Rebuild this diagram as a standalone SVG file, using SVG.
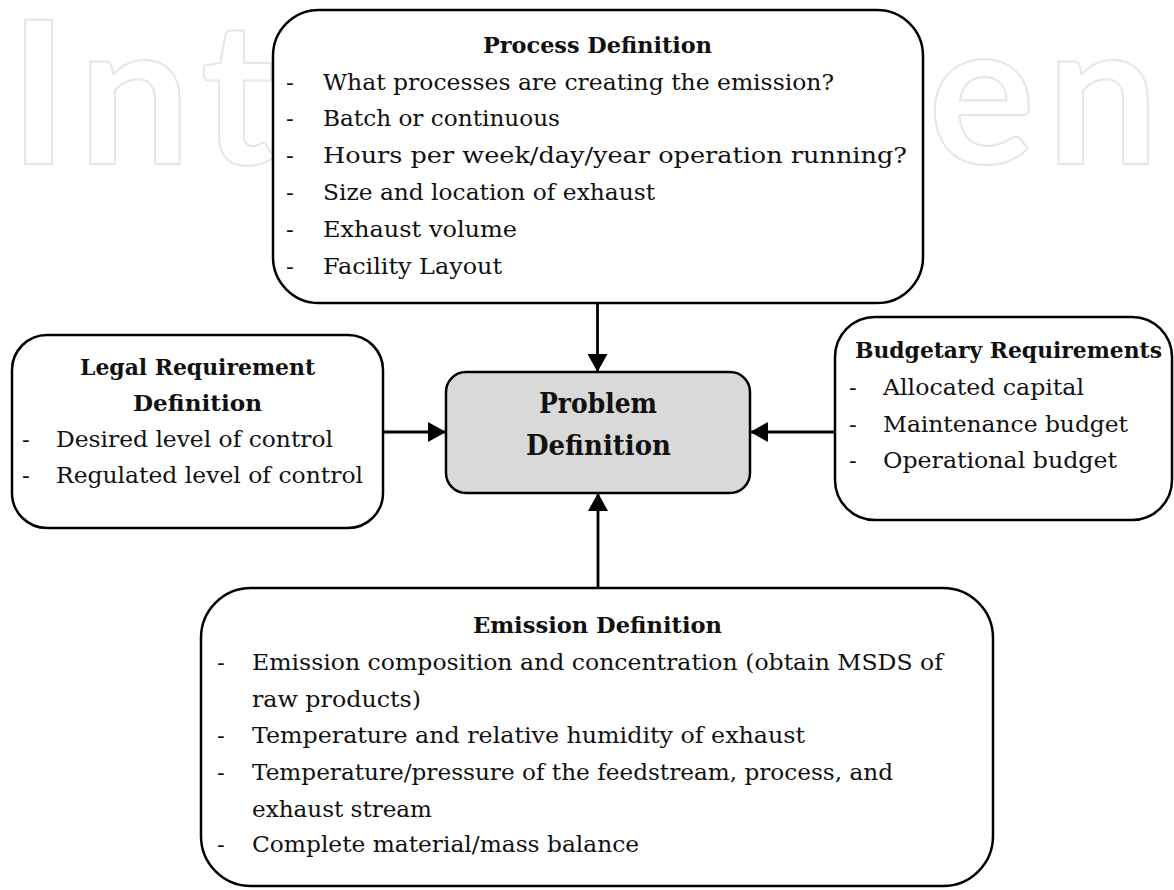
<svg xmlns="http://www.w3.org/2000/svg" width="1174" height="890" viewBox="0 0 1174 890">
<style>
.box{fill:#fff;stroke:#000;stroke-width:2.5}
.core{fill:#d9d9d9;stroke:#000;stroke-width:2.5}
.t{font-family:"DejaVu Serif","Liberation Serif",serif;font-size:23px;fill:#111}
.b{font-family:"DejaVu Serif","Liberation Serif",serif;font-size:23px;font-weight:bold;fill:#111}
.bb{font-family:"DejaVu Serif","Liberation Serif",serif;font-size:27px;font-weight:bold;fill:#111}
.wm{font-family:Lato,"Open Sans",sans-serif;font-size:200px;font-weight:bold;fill:none;stroke:#e6e6e6;stroke-width:2}
.ln{fill:none;stroke:#000;stroke-width:2.8}
</style>
<defs>
<marker id="arr" markerUnits="userSpaceOnUse" viewBox="0 0 18 20" markerWidth="18" markerHeight="20" refX="18" refY="10" orient="auto">
<path d="M0,0 L18,10 L0,20 z" fill="#000"/>
</marker>
</defs>
<rect width="1174" height="890" fill="#fff"/>
<text class="wm" x="9" y="164" textLength="1150" lengthAdjust="spacing">IntechOpen</text>

<g id="connectors">
<line class="ln" x1="597.5" y1="303" x2="597.5" y2="372" marker-end="url(#arr)"/>
<line class="ln" x1="383" y1="432" x2="446" y2="432" marker-end="url(#arr)"/>
<line class="ln" x1="835" y1="432" x2="750" y2="432" marker-end="url(#arr)"/>
<line class="ln" x1="598" y1="588" x2="598" y2="493" marker-end="url(#arr)"/>
</g>

<g id="process">
<rect class="box" x="273" y="10" width="650" height="293" rx="46" ry="46"/>
<text class="b" x="483" y="53" textLength="229" lengthAdjust="spacingAndGlyphs">Process Definition</text>
<text class="t" x="286" y="89.5">-</text>
<text class="t" x="323" y="89.5" textLength="511" lengthAdjust="spacingAndGlyphs">What processes are creating the emission?</text>
<text class="t" x="286" y="126.3">-</text>
<text class="t" x="323" y="126.3" textLength="237" lengthAdjust="spacingAndGlyphs">Batch or continuous</text>
<text class="t" x="286" y="163.1">-</text>
<text class="t" x="323" y="163.1" textLength="584" lengthAdjust="spacingAndGlyphs">Hours per week/day/year operation running?</text>
<text class="t" x="286" y="199.9">-</text>
<text class="t" x="323" y="199.9" textLength="332" lengthAdjust="spacingAndGlyphs">Size and location of exhaust</text>
<text class="t" x="286" y="236.7">-</text>
<text class="t" x="323" y="236.7" textLength="194" lengthAdjust="spacingAndGlyphs">Exhaust volume</text>
<text class="t" x="286" y="273.5">-</text>
<text class="t" x="323" y="273.5" textLength="179" lengthAdjust="spacingAndGlyphs">Facility Layout</text>
</g>

<g id="legal">
<rect class="box" x="12" y="335" width="371" height="193" rx="35" ry="35"/>
<text class="b" x="80" y="375" textLength="235" lengthAdjust="spacingAndGlyphs">Legal Requirement</text>
<text class="b" x="133" y="411" textLength="129" lengthAdjust="spacingAndGlyphs">Definition</text>
<text class="t" x="22" y="447">-</text>
<text class="t" x="56" y="447" textLength="277" lengthAdjust="spacingAndGlyphs">Desired level of control</text>
<text class="t" x="22" y="483">-</text>
<text class="t" x="56" y="483" textLength="307" lengthAdjust="spacingAndGlyphs">Regulated level of control</text>
</g>

<g id="budget">
<rect class="box" x="835" y="317" width="337" height="203" rx="40" ry="40"/>
<text class="b" x="855" y="358" textLength="307" lengthAdjust="spacingAndGlyphs">Budgetary Requirements</text>
<text class="t" x="849" y="395">-</text>
<text class="t" x="883" y="395" textLength="201" lengthAdjust="spacingAndGlyphs">Allocated capital</text>
<text class="t" x="849" y="432">-</text>
<text class="t" x="883" y="432" textLength="245" lengthAdjust="spacingAndGlyphs">Maintenance budget</text>
<text class="t" x="849" y="468">-</text>
<text class="t" x="883" y="468" textLength="234" lengthAdjust="spacingAndGlyphs">Operational budget</text>
</g>

<g id="problem">
<rect class="core" x="446" y="372" width="304" height="121" rx="20" ry="20"/>
<text class="bb" x="539" y="413" textLength="118" lengthAdjust="spacingAndGlyphs">Problem</text>
<text class="bb" x="526" y="455" textLength="145" lengthAdjust="spacingAndGlyphs">Definition</text>
</g>

<g id="emission">
<rect class="box" x="201" y="588" width="792" height="298" rx="50" ry="50"/>
<text class="b" x="473" y="633" textLength="249" lengthAdjust="spacingAndGlyphs">Emission Definition</text>
<text class="t" x="217" y="670">-</text>
<text class="t" x="252" y="670" textLength="691" lengthAdjust="spacingAndGlyphs">Emission composition and concentration (obtain MSDS of</text>
<text class="t" x="252" y="707" textLength="169" lengthAdjust="spacingAndGlyphs">raw products)</text>
<text class="t" x="217" y="743">-</text>
<text class="t" x="252" y="743" textLength="553" lengthAdjust="spacingAndGlyphs">Temperature and relative humidity of exhaust</text>
<text class="t" x="217" y="780">-</text>
<text class="t" x="252" y="780" textLength="641" lengthAdjust="spacingAndGlyphs">Temperature/pressure of the feedstream, process, and</text>
<text class="t" x="252" y="817" textLength="180" lengthAdjust="spacingAndGlyphs">exhaust stream</text>
<text class="t" x="217" y="852">-</text>
<text class="t" x="252" y="852" textLength="387" lengthAdjust="spacingAndGlyphs">Complete material/mass balance</text>
</g>
</svg>
